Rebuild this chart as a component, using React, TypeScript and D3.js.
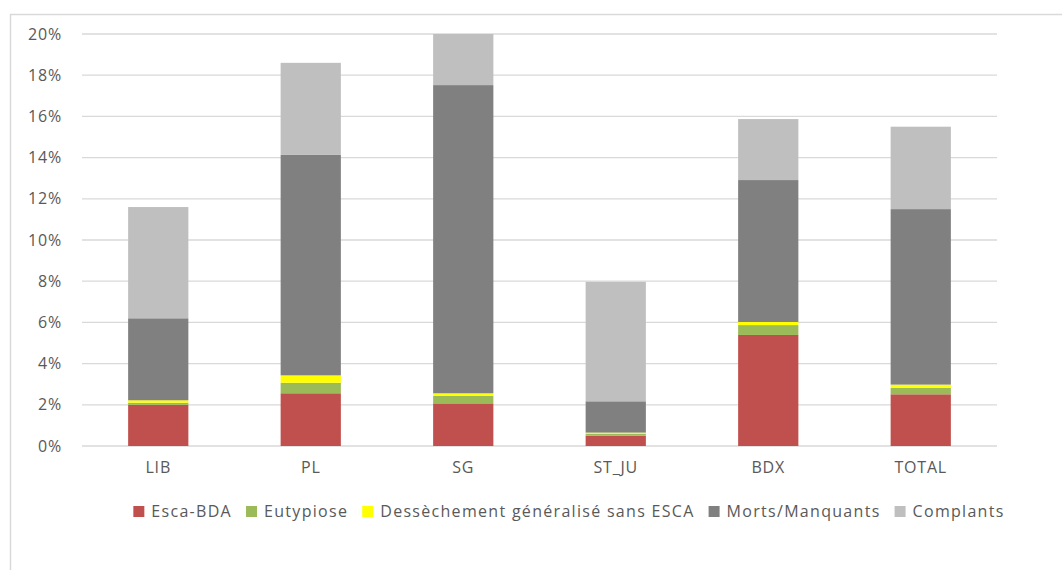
import { useEffect, useRef } from "react";
import * as d3 from "d3";

const categories = ["LIB", "PL", "SG", "ST_JU", "BDX", "TOTAL"];
const seriesNames = [
  "Esca-BDA",
  "Eutypiose",
  "Dessèchement généralisé sans ESCA",
  "Morts/Manquants",
  "Complants",
];
const colors = ["#C0504D", "#9BBB59", "#FFFF00", "#808080", "#BFBFBF"];

// values in %
const escaBda = [2.0, 2.56, 2.07, 0.5, 5.39, 2.51];
const eutypiose = [0.1, 0.51, 0.36, 0.1, 0.48, 0.31];
const dessechement = [0.12, 0.36, 0.13, 0.05, 0.15, 0.16];
const mortsManquants = [3.98, 10.7, 14.96, 1.52, 6.89, 8.52];
const complants = [5.4, 4.47, 2.48, 5.8, 2.96, 4.0];

const yTicks = [0, 2, 4, 6, 8, 10, 12, 14, 16, 18, 20];

const width = 1062;
const height = 570;
const marginLeft = 82;
const marginRight = 65;
const marginTop = 34;
const plotBottom = 446;
const font = "'Open Sans', Lato, sans-serif";
const textColor = "#595959";

export default function App() {
  const ref = useRef<SVGSVGElement>(null);

  useEffect(() => {
    const svg = d3.select(ref.current);
    svg.selectAll("*").remove();

    const rows = categories.map((c, i) => ({
      cat: c,
      s0: escaBda[i],
      s1: eutypiose[i],
      s2: dessechement[i],
      s3: mortsManquants[i],
      s4: complants[i],
    }));
    const keys = ["s0", "s1", "s2", "s3", "s4"];
    const stacked = d3.stack<any>().keys(keys)(rows);

    const x = d3
      .scaleBand()
      .domain(categories)
      .range([marginLeft, width - marginRight])
      .paddingInner(0.605)
      .paddingOuter(0.3025);
    const y = d3.scaleLinear().domain([0, 20]).range([plotBottom, marginTop]);

    // outer frame
    svg
      .append("rect")
      .attr("x", 10.5)
      .attr("y", 14.5)
      .attr("width", width)
      .attr("height", height)
      .attr("fill", "none")
      .attr("stroke", "#D9D9D9")
      .attr("stroke-width", 1.5);

    // grid
    svg
      .append("g")
      .selectAll("line")
      .data(yTicks)
      .join("line")
      .attr("x1", marginLeft)
      .attr("x2", width - marginRight)
      .attr("y1", (d) => y(d))
      .attr("y2", (d) => y(d))
      .attr("stroke", "#D9D9D9")
      .attr("stroke-width", 1.3);

    svg
      .append("g")
      .selectAll("text")
      .data(yTicks)
      .join("text")
      .attr("x", 62)
      .attr("y", (d) => y(d))
      .attr("dy", "0.35em")
      .attr("text-anchor", "end")
      .attr("font-family", font)
      .attr("font-size", 16)
      .attr("letter-spacing", 0.8)
      .attr("fill", textColor)
      .text((d) => d + "%");

    // bars
    svg
      .append("g")
      .selectAll("g")
      .data(stacked)
      .join("g")
      .attr("fill", (_, i) => colors[i])
      .selectAll("rect")
      .data((d) => d)
      .join("rect")
      .attr("x", (d) => x(d.data.cat)!)
      .attr("width", x.bandwidth())
      .attr("y", (d) => y(d[1]))
      .attr("height", (d) => y(d[0]) - y(d[1]));

    // category labels
    svg
      .append("g")
      .selectAll("text")
      .data(categories)
      .join("text")
      .attr("x", (d) => x(d)! + x.bandwidth() / 2)
      .attr("y", 467)
      .attr("dy", "0.35em")
      .attr("text-anchor", "middle")
      .attr("font-family", font)
      .attr("font-size", 16)
      .attr("letter-spacing", 0.8)
      .attr("fill", textColor)
      .text((d) => d);

    // legend
    const legend = svg.append("g");
    const items = legend
      .selectAll("g")
      .data(seriesNames)
      .join("g");
    items
      .append("rect")
      .attr("width", 11)
      .attr("height", 11)
      .attr("y", 506)
      .attr("fill", (_, i) => colors[i]);
    const labels = items
      .append("text")
      .attr("x", 18)
      .attr("y", 511)
      .attr("dy", "0.35em")
      .attr("font-family", font)
      .attr("font-size", 16)
      .attr("letter-spacing", 1.3)
      .attr("fill", textColor)
      .text((d) => d);
    const widths = labels.nodes().map((n) => (n as SVGTextElement).getComputedTextLength());
    const gap = 14;
    const total = d3.sum(widths) + widths.length * 18 + (widths.length - 1) * gap;
    let cx = 569 - total / 2;
    items.attr("transform", (_, i) => {
      const t = `translate(${cx},0)`;
      cx += 18 + widths[i] + gap;
      return t;
    });
  }, []);

  return (
    <svg
      ref={ref}
      width={width}
      height={height}
      style={{ position: "absolute", left: 0, top: 0, background: "#fff" }}
    />
  );
}
